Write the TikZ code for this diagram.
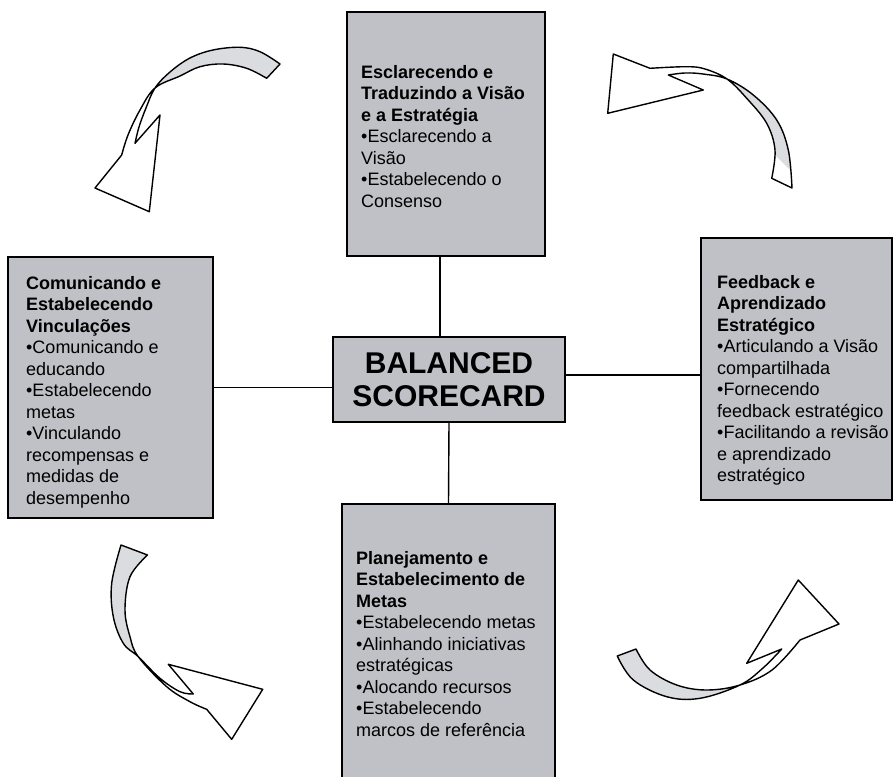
\documentclass[tikz,border=0pt]{standalone}
\usepackage{fontspec}
\setmainfont{Liberation Sans}
\definecolor{boxgrey}{RGB}{191,193,198}
\definecolor{bandgrey}{RGB}{218,220,224}
\begin{document}
\begin{tikzpicture}[x=1pt,y=-1pt,
  panel/.style={draw=black, line width=1.6pt, fill=boxgrey, inner sep=0pt},
  paneltext/.style={anchor=north west, inner sep=0pt, align=left,
    font=\fontsize{18}{21.5}\selectfont},
  link/.style={draw=black, line width=1.4pt},
  curvearrow/.style={draw=black, fill=white, line width=1.4pt, line join=round},
  curve/.style={smooth, tension=0.6}]
\useasboundingbox (0,0) rectangle (895,777);
\clip (0,0) rectangle (895,777);

% ---------- panels ----------
\node[panel, minimum width=198pt, minimum height=244pt] (vision) at (446,134) {};
\node[panel, minimum width=205pt, minimum height=261pt] (comm) at (110.5,387.5) {};
\node[panel, minimum width=191pt, minimum height=262pt] (feed) at (796.5,369) {};
\node[panel, minimum width=213pt, minimum height=286pt] (plan) at (448.5,647) {};
\node[panel, minimum width=232pt, minimum height=85pt, align=center,
      font=\bfseries\fontsize{30}{33}\selectfont] (bsc) at (449,379.5) {BALANCED\\SCORECARD};

% ---------- panel texts ----------
\node[paneltext] (visionText) at (361,65)
  {\textbf{Esclarecendo e}\\\textbf{Traduzindo a Visão}\\\textbf{e a Estratégia}\\
   •Esclarecendo a\\Visão\\•Estabelecendo o\\Consenso};
\node[paneltext] (commText) at (26,276)
  {\textbf{Comunicando e}\\\textbf{Estabelecendo}\\\textbf{Vinculações}\\
   •Comunicando e\\educando\\•Estabelecendo\\metas\\•Vinculando\\
   recompensas e\\medidas de\\desempenho};
\node[paneltext] (feedText) at (717,275)
  {\textbf{Feedback e}\\\textbf{Aprendizado}\\\textbf{Estratégico}\\
   •Articulando a Visão\\compartilhada\\•Fornecendo\\feedback estratégico\\
   •Facilitando a revisão\\e aprendizado\\estratégico};
\node[paneltext] (planText) at (356,551)
  {\textbf{Planejamento e}\\\textbf{Estabelecimento de}\\\textbf{Metas}\\
   •Estabelecendo metas\\•Alinhando iniciativas\\estratégicas\\
   •Alocando recursos\\•Estabelecendo\\marcos de referência};

% ---------- connectors ----------
\draw[link] ([xshift=-6pt]vision.south) -- ([xshift=-9pt]bsc.north);
\draw[link] (bsc.south) -- (plan.north);
\draw[link] (comm.east) -- (comm.east -| bsc.west);
\draw[link] ([yshift=-6pt]feed.west) -- ([yshift=-6pt]feed.west -| bsc.east);

% ---------- curved ribbon arrows ----------
% top left
\path[curvearrow, path picture={\fill[bandgrey] (145,80) -- (165,94) -- (300,94) -- (300,30) -- (145,30) -- cycle;}]
  plot[curve] coordinates {(280,64) (260,51.7) (240,47.3) (213,50) (190,58) (170,72) (155,88) (146,108) (139,127) (135,143.3)}
  -- (160,115) -- (149.3,211.7) -- (95,188) -- (121.7,155)
  -- plot[curve] coordinates {(121.7,155) (128,135) (140,110) (155,88) (180,76) (200,66.7) (223,64) (246.7,68.3) (266.7,78.3)}
  -- cycle;
% top right
\path[curvearrow, path picture={\fill[bandgrey] (725,50) -- (730,110) -- (820,200) -- (820,50) -- cycle;}]
  plot[curve] coordinates {(792,188) (788.3,150) (776.7,120) (753.3,95) (727,79) (703,74) (685,73) (668.3,75)}
  -- (703.3,90) -- (607.7,113.3) -- (613.3,54) -- (650,68.3)
  -- plot[curve] coordinates {(650,68.3) (686.7,66.7) (705,69) (727,79) (746.7,98.3) (766.7,123.3) (775,150) (771.7,178.3)}
  -- cycle;
% bottom left
\path[curvearrow, path picture={\fill[bandgrey] (110,685) -- (170,625) -- (170,530) -- (90,530) -- (90,685) -- cycle;}]
  plot[curve] coordinates {(121,545) (111.7,583.3) (113.3,616.7) (123.3,643.3) (138.3,656.7) (160,678.3) (180,691.7) (193.3,694)}
  -- (168.3,664.3) -- (262.7,689.3) -- (231.7,739.3) -- (206.7,709.3)
  -- plot[curve] coordinates {(206.7,709.3) (190,701.7) (166.7,686.7) (138.3,656.7) (130,636.7) (125,610) (130,576.7) (147.5,555)}
  -- cycle;
% bottom right
\path[curvearrow, path picture={\fill[bandgrey] (720,660) -- (760,710) -- (600,720) -- (600,630) -- (720,630) -- cycle;}]
  plot[curve] coordinates {(617.3,656) (633.3,680) (666.7,696.7) (700,698.3) (740,685) (763,668) (781.7,649)}
  -- (746.7,663.3) -- (798.3,580) -- (839,624) -- (800,640)
  -- plot[curve] coordinates {(800,640) (772,670) (740,685) (706.7,690) (676.7,685) (650,670) (636,649)}
  -- cycle;
\end{tikzpicture}
\end{document}
